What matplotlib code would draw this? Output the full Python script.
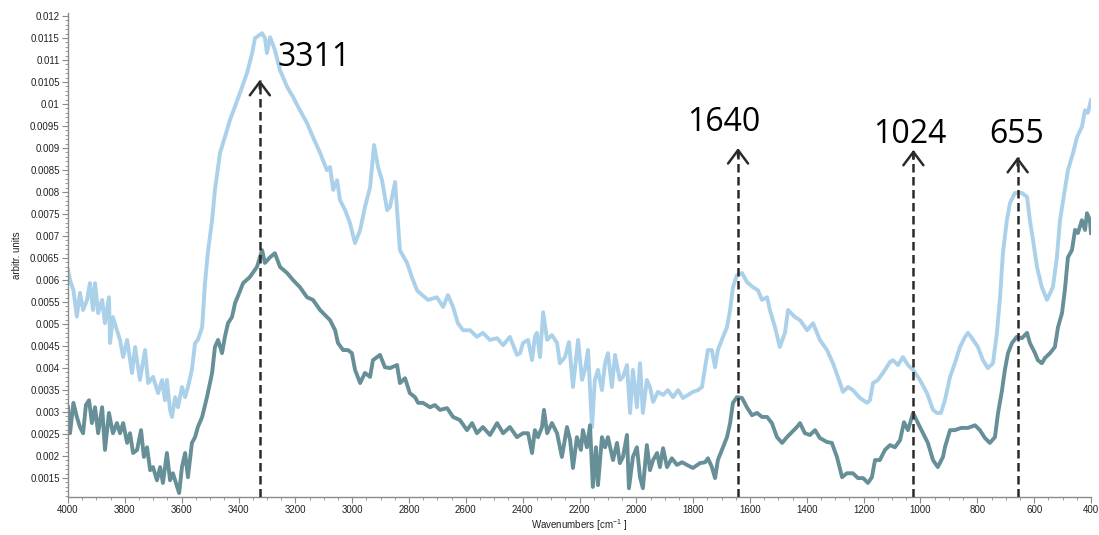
import matplotlib
matplotlib.use("Agg")
import matplotlib.pyplot as plt
from matplotlib.ticker import MultipleLocator, FuncFormatter

# light blue spectrum (wavenumber cm-1, absorbance)
wn_light = [4000, 3993, 3981, 3969, 3958, 3947, 3933, 3923, 3912, 3905,
            3894, 3880, 3870, 3856, 3852, 3842, 3828, 3817, 3806, 3792,
            3775, 3764, 3747, 3729, 3718, 3701, 3683, 3669, 3659, 3652,
            3641, 3634, 3623, 3613, 3599, 3588, 3578, 3564, 3553, 3543,
            3528, 3518, 3507, 3493, 3483, 3465, 3448, 3430, 3395, 3370,
            3352, 3342, 3317, 3307, 3300, 3289, 3272, 3254, 3229, 3208,
            3184, 3159, 3138, 3113, 3089, 3078, 3067, 3053, 3043, 3025,
            3008, 2990, 2972, 2955, 2937, 2923, 2909, 2895, 2877, 2867,
            2849, 2832, 2807, 2790, 2772, 2754, 2733, 2702, 2680, 2663,
            2645, 2628, 2610, 2585, 2561, 2540, 2515, 2490, 2469, 2445,
            2420, 2409, 2399, 2381, 2367, 2357, 2350, 2339, 2328, 2314,
            2297, 2279, 2269, 2251, 2237, 2223, 2205, 2191, 2181, 2170,
            2156, 2146, 2135, 2121, 2110, 2100, 2086, 2075, 2058, 2047,
            2033, 2022, 2012, 1998, 1987, 1977, 1963, 1952, 1941, 1924,
            1906, 1889, 1871, 1853, 1836, 1818, 1801, 1783, 1769, 1758,
            1748, 1734, 1723, 1713, 1695, 1681, 1670, 1660, 1646, 1628,
            1611, 1590, 1572, 1558, 1540, 1530, 1512, 1495, 1477, 1466,
            1442, 1424, 1399, 1378, 1354, 1329, 1308, 1283, 1273, 1255,
            1238, 1213, 1188, 1178, 1167, 1150, 1132, 1107, 1097, 1079,
            1062, 1044, 1026, 1002, 977, 956, 942, 928, 914, 896,
            879, 861, 843, 833, 822, 798, 780, 763, 745, 731,
            720, 710, 696, 685, 668, 643, 625, 615, 604, 590,
            573, 555, 544, 534, 520, 509, 492, 481, 463, 449,
            432, 421, 411, 400]
abs_light = [0.00623, 0.00600, 0.00577, 0.00517, 0.00571, 0.00532, 0.00555, 0.00593, 0.00532, 0.00593,
             0.00525, 0.00555, 0.00502, 0.00561, 0.00457, 0.00516, 0.00486, 0.00464, 0.00425, 0.00464,
             0.00389, 0.00448, 0.00373, 0.00441, 0.00366, 0.00380, 0.00343, 0.00373, 0.00327, 0.00373,
             0.00305, 0.00289, 0.00334, 0.00311, 0.00357, 0.00334, 0.00357, 0.00396, 0.00457, 0.00464,
             0.00493, 0.00593, 0.00668, 0.00736, 0.00805, 0.00889, 0.00925, 0.00964, 0.01025, 0.01071,
             0.01116, 0.01150, 0.01161, 0.01150, 0.01116, 0.01152, 0.01123, 0.01077, 0.01039, 0.01016,
             0.00986, 0.00957, 0.00925, 0.00889, 0.00850, 0.00857, 0.00805, 0.00827, 0.00782, 0.00759,
             0.00730, 0.00684, 0.00714, 0.00766, 0.00811, 0.00907, 0.00857, 0.00827, 0.00759, 0.00766,
             0.00823, 0.00668, 0.00639, 0.00607, 0.00577, 0.00566, 0.00555, 0.00561, 0.00539, 0.00566,
             0.00539, 0.00502, 0.00486, 0.00486, 0.00471, 0.00480, 0.00464, 0.00468, 0.00452, 0.00471,
             0.00430, 0.00434, 0.00457, 0.00464, 0.00418, 0.00471, 0.00480, 0.00425, 0.00527, 0.00464,
             0.00475, 0.00457, 0.00411, 0.00425, 0.00459, 0.00357, 0.00464, 0.00373, 0.00396, 0.00441,
             0.00266, 0.00373, 0.00396, 0.00350, 0.00411, 0.00434, 0.00357, 0.00430, 0.00373, 0.00380,
             0.00407, 0.00298, 0.00396, 0.00311, 0.00411, 0.00298, 0.00373, 0.00357, 0.00323, 0.00346,
             0.00339, 0.00350, 0.00334, 0.00350, 0.00332, 0.00339, 0.00346, 0.00350, 0.00357, 0.00402,
             0.00441, 0.00441, 0.00402, 0.00441, 0.00471, 0.00493, 0.00532, 0.00584, 0.00611, 0.00616,
             0.00596, 0.00584, 0.00577, 0.00555, 0.00561, 0.00532, 0.00493, 0.00448, 0.00480, 0.00532,
             0.00516, 0.00509, 0.00486, 0.00502, 0.00464, 0.00441, 0.00411, 0.00366, 0.00346, 0.00357,
             0.00350, 0.00332, 0.00321, 0.00327, 0.00366, 0.00373, 0.00389, 0.00414, 0.00418, 0.00407,
             0.00425, 0.00407, 0.00396, 0.00373, 0.00343, 0.00305, 0.00298, 0.00298, 0.00327, 0.00380,
             0.00411, 0.00448, 0.00471, 0.00480, 0.00471, 0.00448, 0.00418, 0.00400, 0.00411, 0.00480,
             0.00561, 0.00661, 0.00736, 0.00775, 0.00798, 0.00798, 0.00789, 0.00736, 0.00691, 0.00630,
             0.00584, 0.00555, 0.00570, 0.00584, 0.00652, 0.00736, 0.00805, 0.00850, 0.00889, 0.00925,
             0.00948, 0.00986, 0.00980, 0.01009]

# dark teal spectrum
wn_dark = [4000, 3993, 3981, 3969, 3958, 3947, 3937, 3926, 3916, 3905,
           3894, 3880, 3870, 3856, 3842, 3828, 3817, 3806, 3792, 3782,
           3771, 3757, 3743, 3733, 3722, 3711, 3701, 3687, 3676, 3666,
           3652, 3641, 3631, 3616, 3609, 3599, 3588, 3578, 3564, 3553,
           3543, 3528, 3511, 3493, 3483, 3472, 3458, 3448, 3437, 3423,
           3412, 3398, 3384, 3360, 3335, 3317, 3307, 3289, 3272, 3254,
           3229, 3208, 3184, 3159, 3138, 3113, 3089, 3078, 3060, 3050,
           3032, 3015, 3001, 2990, 2972, 2955, 2937, 2927, 2902, 2885,
           2867, 2842, 2832, 2814, 2797, 2779, 2768, 2751, 2726, 2709,
           2691, 2666, 2645, 2621, 2596, 2578, 2561, 2540, 2515, 2490,
           2469, 2445, 2420, 2399, 2381, 2367, 2357, 2346, 2332, 2325,
           2314, 2297, 2279, 2262, 2244, 2233, 2223, 2209, 2195, 2188,
           2174, 2163, 2153, 2142, 2135, 2121, 2110, 2100, 2082, 2068,
           2058, 2047, 2033, 2026, 2012, 1998, 1987, 1977, 1963, 1952,
           1941, 1927, 1917, 1906, 1892, 1875, 1857, 1839, 1822, 1801,
           1776, 1758, 1748, 1734, 1723, 1713, 1699, 1681, 1670, 1660,
           1646, 1628, 1611, 1593, 1575, 1558, 1540, 1523, 1505, 1487,
           1470, 1452, 1435, 1424, 1407, 1389, 1371, 1354, 1329, 1312,
           1294, 1276, 1259, 1238, 1220, 1202, 1185, 1171, 1160, 1143,
           1125, 1107, 1090, 1072, 1058, 1044, 1026, 1009, 991, 974,
           956, 939, 921, 914, 896, 879, 857, 833, 808, 791,
           773, 756, 738, 727, 713, 703, 692, 678, 661, 643,
           625, 615, 597, 587, 573, 562, 544, 527, 516, 502,
           492, 481, 467, 456, 446, 432, 421, 414, 404, 400]
abs_dark = [0.00311, 0.00252, 0.00321, 0.00289, 0.00266, 0.00252, 0.00316, 0.00327, 0.00275, 0.00311,
            0.00252, 0.00311, 0.00214, 0.00298, 0.00252, 0.00275, 0.00252, 0.00275, 0.00230, 0.00252,
            0.00207, 0.00214, 0.00259, 0.00198, 0.00220, 0.00168, 0.00175, 0.00145, 0.00175, 0.00139,
            0.00207, 0.00145, 0.00161, 0.00130, 0.00116, 0.00175, 0.00207, 0.00152, 0.00230, 0.00243,
            0.00266, 0.00289, 0.00334, 0.00389, 0.00448, 0.00464, 0.00434, 0.00471, 0.00502, 0.00516,
            0.00548, 0.00570, 0.00593, 0.00607, 0.00630, 0.00668, 0.00639, 0.00652, 0.00661, 0.00630,
            0.00616, 0.00600, 0.00584, 0.00561, 0.00555, 0.00532, 0.00516, 0.00509, 0.00486, 0.00457,
            0.00441, 0.00441, 0.00434, 0.00396, 0.00366, 0.00389, 0.00380, 0.00418, 0.00430, 0.00402,
            0.00400, 0.00407, 0.00366, 0.00377, 0.00343, 0.00334, 0.00321, 0.00321, 0.00311, 0.00316,
            0.00305, 0.00309, 0.00289, 0.00282, 0.00259, 0.00275, 0.00252, 0.00266, 0.00248, 0.00275,
            0.00252, 0.00266, 0.00243, 0.00252, 0.00252, 0.00207, 0.00259, 0.00243, 0.00266, 0.00305,
            0.00252, 0.00275, 0.00252, 0.00198, 0.00266, 0.00236, 0.00173, 0.00243, 0.00214, 0.00259,
            0.00220, 0.00270, 0.00130, 0.00220, 0.00134, 0.00243, 0.00220, 0.00243, 0.00191, 0.00230,
            0.00184, 0.00198, 0.00248, 0.00127, 0.00198, 0.00220, 0.00152, 0.00127, 0.00225, 0.00168,
            0.00191, 0.00207, 0.00175, 0.00218, 0.00175, 0.00195, 0.00180, 0.00186, 0.00180, 0.00173,
            0.00184, 0.00186, 0.00195, 0.00175, 0.00150, 0.00191, 0.00214, 0.00243, 0.00275, 0.00321,
            0.00334, 0.00332, 0.00311, 0.00293, 0.00298, 0.00289, 0.00289, 0.00275, 0.00243, 0.00230,
            0.00243, 0.00255, 0.00266, 0.00275, 0.00252, 0.00248, 0.00259, 0.00241, 0.00232, 0.00230,
            0.00198, 0.00152, 0.00161, 0.00161, 0.00150, 0.00150, 0.00139, 0.00152, 0.00191, 0.00191,
            0.00214, 0.00225, 0.00220, 0.00236, 0.00277, 0.00259, 0.00298, 0.00275, 0.00252, 0.00230,
            0.00191, 0.00175, 0.00198, 0.00220, 0.00259, 0.00259, 0.00264, 0.00264, 0.00270, 0.00259,
            0.00241, 0.00230, 0.00243, 0.00298, 0.00350, 0.00396, 0.00434, 0.00457, 0.00471, 0.00468,
            0.00480, 0.00457, 0.00434, 0.00418, 0.00411, 0.00423, 0.00434, 0.00448, 0.00493, 0.00525,
            0.00577, 0.00652, 0.00668, 0.00714, 0.00707, 0.00736, 0.00714, 0.00752, 0.00736, 0.00707]

# marked peaks
peak_labels = ["3311", "1640", "1024", "655"]
peak_wn = [3325, 1642, 1025, 658]
peak_tip = [0.01055, 0.00900, 0.00896, 0.00880]

# label anchor points (wavenumber, absorbance) and alignment
label_pos = [(3262, 0.01107, "left"), (1692, 0.00959, "center"),
             (1037, 0.00930, "center"), (660, 0.00930, "center")]

plt.rcParams["font.family"] = ["Liberation Sans", "DejaVu Sans"]
plt.rcParams["mathtext.default"] = "regular"

fig = plt.figure(figsize=(10.99, 5.35), dpi=100)
ax = fig.add_axes([0.0619, 0.0710, 0.9308, 0.9047])

ax.plot(wn_light, abs_light, color="#abd1ea", lw=2.8, solid_joinstyle="round")
ax.plot(wn_dark, abs_dark, color="#678f98", lw=2.8, solid_joinstyle="round")

ymin, ymax = 0.00107, 0.01207
ax.set_xlim(4000, 400)
ax.set_ylim(ymin, ymax)

ink = "#2a2a2a"
for lab, wn, tip, (tx, ty, ha) in zip(peak_labels, peak_wn, peak_tip, label_pos):
    ax.plot([wn, wn], [ymin, tip], color=ink, lw=1.8, ls=(0, (3.4, 1.8)), zorder=5)
    ax.annotate("", xy=(wn, tip), xytext=(wn, tip - 0.0002),
                arrowprops=dict(arrowstyle="->,head_length=0.6,head_width=0.45",
                                lw=1.8, color=ink, mutation_scale=16,
                                shrinkA=0, shrinkB=0), zorder=6)
    ax.text(tx, ty, lab, fontsize=23, family=["Open Sans", "DejaVu Sans"],
            ha=ha, va="center", color="black")

ax.xaxis.set_major_locator(MultipleLocator(200))
ax.xaxis.set_minor_locator(MultipleLocator(50))
ax.yaxis.set_major_locator(MultipleLocator(0.0005))
ax.yaxis.set_minor_locator(MultipleLocator(0.0001))
ax.yaxis.set_major_formatter(FuncFormatter(lambda v, p: f"{v:g}"))
ax.xaxis.set_major_formatter(FuncFormatter(lambda v, p: f"{v:.0f}"))

for side in ["top", "right"]:
    ax.spines[side].set_visible(False)
for side in ["left", "bottom"]:
    ax.spines[side].set_color("#8a8a8a")
    ax.spines[side].set_linewidth(1.0)

ax.tick_params(which="major", length=4, width=0.8, color="#8a8a8a",
               labelsize=7, labelcolor="#222222", pad=2)
ax.tick_params(which="minor", length=2.5, width=0.6, color="#8a8a8a")

ax.set_ylabel("arbitr. units", fontsize=7, color="#222222")
ax.yaxis.set_label_coords(-0.045, 0.5)
ax.set_xlabel("Wavenumbers [cm$^{-1}$ ]", fontsize=7, color="#222222", labelpad=1)

fig.savefig("out.png", dpi=100)
